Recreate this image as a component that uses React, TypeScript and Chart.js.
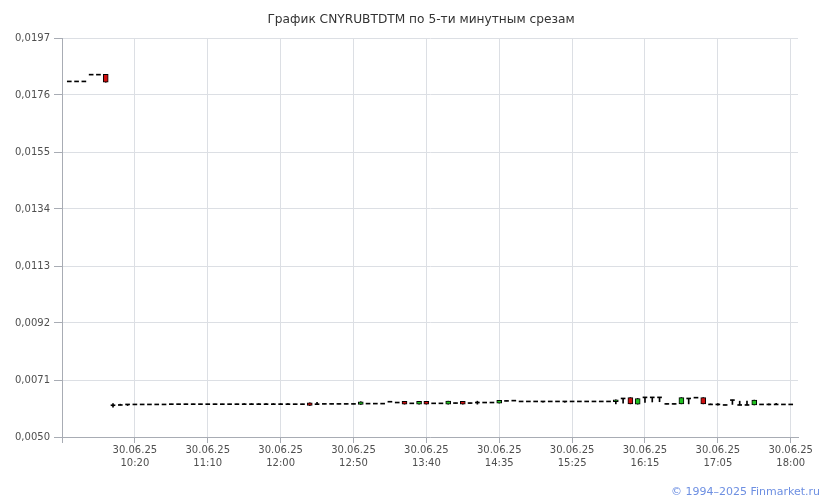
import React, { useEffect, useRef } from "react";
import { Chart, registerables } from "chart.js";
Chart.register(...registerables);

const TITLE = "График CNYRUBTDTM по 5-ти минутным срезам";
const FOOTER = "© 1994–2025 Finmarket.ru";
const DATE = "30.06.25";

const times = [
  "09:30","09:35","09:40","09:45","09:50","09:55","10:00","10:05","10:10","10:15",
  "10:20","10:25","10:30","10:35","10:40","10:45","10:50","10:55","11:00","11:05",
  "11:10","11:15","11:20","11:25","11:30","11:35","11:40","11:45","11:50","11:55",
  "12:00","12:05","12:10","12:15","12:20","12:25","12:30","12:35","12:40","12:45",
  "12:50","12:55","13:00","13:05","13:10","13:15","13:20","13:25","13:30","13:35",
  "13:40","13:45","13:50","13:55","14:00","14:05","14:15","14:20","14:25","14:30",
  "14:35","14:40","14:45","14:50","14:55","15:00","15:05","15:10","15:15","15:20",
  "15:25","15:30","15:35","15:40","15:45","15:50","15:55","16:00","16:05","16:10",
  "16:15","16:20","16:25","16:30","16:35","16:40","16:45","16:50","16:55","17:00",
  "17:05","17:10","17:15","17:20","17:25","17:30","17:35","17:45","17:50","17:55",
  "18:00","18:05",
];

const opens = [
  null, 0.01810, 0.01810, 0.01810, 0.01835, 0.01835, 0.01836, 0.00617, 0.00618, 0.00620,
  0.00620, 0.00620, 0.00620, 0.00620, 0.00620, 0.00621, 0.00621, 0.00621, 0.00621, 0.00621,
  0.00621, 0.00621, 0.00621, 0.00621, 0.00621, 0.00621, 0.00621, 0.00621, 0.00621, 0.00621,
  0.00621, 0.00621, 0.00621, 0.00621, 0.00626, 0.00621, 0.00622, 0.00622, 0.00622, 0.00622,
  0.00622, 0.00620, 0.00623, 0.00623, 0.00623, 0.00630, 0.00627, 0.00631, 0.00624, 0.00621,
  0.00631, 0.00624, 0.00624, 0.00621, 0.00625, 0.00631, 0.00625, 0.00627, 0.00627, 0.00627,
  0.00625, 0.00633, 0.00634, 0.00631, 0.00631, 0.00631, 0.00631, 0.00631, 0.00631, 0.00631,
  0.00631, 0.00631, 0.00631, 0.00631, 0.00631, 0.00631, 0.00630, 0.00642, 0.00645, 0.00621,
  0.00646, 0.00646, 0.00646, 0.00622, 0.00622, 0.00622, 0.00642, 0.00645, 0.00645, 0.00620,
  0.00620, 0.00618, 0.00636, 0.00618, 0.00618, 0.00618, 0.00620, 0.00620, 0.00620, 0.00620,
  0.00620, null,
];

const highs = [
  null, 0.01810, 0.01810, 0.01810, 0.01835, 0.01835, 0.01836, 0.00623, 0.00621, 0.00620,
  0.00620, 0.00620, 0.00620, 0.00620, 0.00620, 0.00621, 0.00621, 0.00621, 0.00621, 0.00621,
  0.00621, 0.00621, 0.00621, 0.00621, 0.00621, 0.00623, 0.00623, 0.00623, 0.00623, 0.00623,
  0.00623, 0.00623, 0.00621, 0.00621, 0.00626, 0.00628, 0.00622, 0.00622, 0.00622, 0.00622,
  0.00622, 0.00630, 0.00623, 0.00623, 0.00623, 0.00630, 0.00627, 0.00631, 0.00624, 0.00631,
  0.00631, 0.00624, 0.00624, 0.00632, 0.00625, 0.00631, 0.00625, 0.00632, 0.00627, 0.00627,
  0.00635, 0.00633, 0.00634, 0.00631, 0.00631, 0.00631, 0.00631, 0.00631, 0.00631, 0.00631,
  0.00631, 0.00631, 0.00631, 0.00631, 0.00631, 0.00631, 0.00637, 0.00642, 0.00645, 0.00642,
  0.00646, 0.00646, 0.00646, 0.00622, 0.00622, 0.00645, 0.00642, 0.00645, 0.00645, 0.00622,
  0.00623, 0.00618, 0.00636, 0.00632, 0.00632, 0.00636, 0.00620, 0.00622, 0.00624, 0.00620,
  0.00620, null,
];

const lows = [
  null, 0.01810, 0.01810, 0.01810, 0.01835, 0.01835, 0.01807, 0.00610, 0.00618, 0.00616,
  0.00620, 0.00620, 0.00620, 0.00620, 0.00620, 0.00621, 0.00621, 0.00621, 0.00621, 0.00621,
  0.00621, 0.00621, 0.00621, 0.00621, 0.00621, 0.00621, 0.00621, 0.00621, 0.00621, 0.00621,
  0.00621, 0.00621, 0.00621, 0.00621, 0.00616, 0.00621, 0.00622, 0.00622, 0.00622, 0.00622,
  0.00622, 0.00620, 0.00623, 0.00623, 0.00623, 0.00630, 0.00627, 0.00621, 0.00624, 0.00621,
  0.00621, 0.00624, 0.00624, 0.00621, 0.00625, 0.00621, 0.00625, 0.00621, 0.00627, 0.00627,
  0.00625, 0.00633, 0.00634, 0.00631, 0.00631, 0.00631, 0.00628, 0.00631, 0.00631, 0.00628,
  0.00631, 0.00631, 0.00631, 0.00631, 0.00631, 0.00631, 0.00622, 0.00625, 0.00622, 0.00621,
  0.00627, 0.00629, 0.00630, 0.00622, 0.00622, 0.00622, 0.00622, 0.00645, 0.00622, 0.00620,
  0.00617, 0.00618, 0.00620, 0.00618, 0.00618, 0.00618, 0.00620, 0.00618, 0.00620, 0.00620,
  0.00620, null,
];

const closes = [
  null, 0.01810, 0.01810, 0.01810, 0.01835, 0.01835, 0.01807, 0.00617, 0.00618, 0.00620,
  0.00620, 0.00620, 0.00620, 0.00620, 0.00620, 0.00621, 0.00621, 0.00621, 0.00621, 0.00621,
  0.00621, 0.00621, 0.00621, 0.00621, 0.00621, 0.00621, 0.00621, 0.00621, 0.00621, 0.00621,
  0.00621, 0.00621, 0.00621, 0.00621, 0.00616, 0.00621, 0.00622, 0.00622, 0.00622, 0.00622,
  0.00622, 0.00630, 0.00623, 0.00623, 0.00623, 0.00630, 0.00627, 0.00621, 0.00624, 0.00631,
  0.00621, 0.00624, 0.00624, 0.00632, 0.00625, 0.00621, 0.00625, 0.00627, 0.00627, 0.00627,
  0.00635, 0.00633, 0.00634, 0.00631, 0.00631, 0.00631, 0.00631, 0.00631, 0.00631, 0.00631,
  0.00631, 0.00631, 0.00631, 0.00631, 0.00631, 0.00631, 0.00637, 0.00642, 0.00622, 0.00642,
  0.00646, 0.00646, 0.00646, 0.00622, 0.00622, 0.00645, 0.00642, 0.00645, 0.00622, 0.00620,
  0.00620, 0.00618, 0.00636, 0.00618, 0.00618, 0.00636, 0.00620, 0.00620, 0.00620, 0.00620,
  0.00620, null,
];

const yTicks = [0.005, 0.0071, 0.0092, 0.0113, 0.0134, 0.0155, 0.0176, 0.0197];
const Y_MIN = 0.005;
const Y_MAX = 0.0197;

const GRID = "#dcdfe4";
const AXIS = "#a8acb4";
const TEXT = "#4f4f4f";
const UP = "#22c322";
const DOWN = "#d01010";
const DOJI_HALF = 0.000018;
const FONT = "DejaVu Sans";

export default function App() {
  const ref = useRef<HTMLCanvasElement | null>(null);

  useEffect(() => {
    const canvas = ref.current;
    if (!canvas) return;

    const wicks = times.map((_, i) =>
      lows[i] == null || highs[i] == null ? null : [lows[i], highs[i]]
    );
    const bodies = times.map((_, i) => {
      const o = opens[i];
      const c = closes[i];
      if (o == null || c == null || o === c) return null;
      return [Math.min(o, c), Math.max(o, c)];
    });
    const dojis = times.map((_, i) => {
      const o = opens[i];
      const c = closes[i];
      if (o == null || c == null || o !== c) return null;
      return [o - DOJI_HALF, o + DOJI_HALF];
    });
    const bodyColors = times.map((_, i) => {
      const o = opens[i];
      const c = closes[i];
      if (o == null || c == null) return "#000";
      return c > o ? UP : DOWN;
    });

    const chart = new Chart(canvas, {
      type: "bar",
      data: {
        labels: times,
        datasets: [
          {
            label: "wick",
            data: wicks as any,
            backgroundColor: "#000",
            borderWidth: 0,
            barThickness: 1,
            grouped: false,
            order: 3,
          } as any,
          {
            label: "doji",
            data: dojis as any,
            backgroundColor: "#000",
            borderWidth: 0,
            barThickness: 4,
            grouped: false,
            order: 2,
          } as any,
          {
            label: "body",
            data: bodies as any,
            backgroundColor: bodyColors,
            borderColor: "#000",
            borderWidth: 1,
            borderSkipped: false,
            barThickness: 5,
            grouped: false,
            order: 1,
          } as any,
        ],
      },
      options: {
        responsive: false,
        animation: false,
        devicePixelRatio: 1,
        layout: { padding: { top: 38, right: 32, left: 0, bottom: 0 } },
        plugins: {
          legend: { display: false },
          tooltip: { enabled: false },
          title: { display: false },
        },
        scales: {
          x: {
            type: "category",
            offset: false,
            grid: {
              offset: false,
              color: (ctx: any) => (ctx.index % 10 === 0 && ctx.index > 0 ? GRID : "rgba(0,0,0,0)"),
              tickColor: (ctx: any) => (ctx.index % 10 === 0 ? AXIS : "rgba(0,0,0,0)"),
              tickLength: 6,
            },
            border: { color: AXIS },
            ticks: {
              autoSkip: false,
              maxRotation: 0,
              minRotation: 0,
              padding: 1,
              color: TEXT,
              font: { family: FONT, size: 10, lineHeight: 1.3 },
              callback: (_v: any, i: number) =>
                i % 10 === 0 && i > 0 && i <= 100 ? [DATE, times[i]] : "",
            },
            afterFit: (s: any) => {
              s.height = 63;
            },
          } as any,
          y: {
            type: "linear",
            min: Y_MIN,
            max: Y_MAX,
            afterBuildTicks: (s: any) => {
              s.ticks = yTicks.map((v) => ({ value: v }));
            },
            grid: { color: GRID, tickColor: AXIS, tickLength: 8 },
            border: { color: AXIS },
            ticks: {
              padding: 4,
              color: TEXT,
              font: { family: FONT, size: 10 },
              callback: (v: any) => Number(v).toFixed(4).replace(".", ","),
            },
            afterFit: (s: any) => {
              s.width = 62;
            },
          } as any,
        },
      },
    });
    return () => chart.destroy();
  }, []);

  return (
    <div style={{ position: "fixed", left: 0, top: 0, width: 830, height: 500, background: "#fff" }}>
      <canvas ref={ref} width={830} height={500} style={{ position: "absolute", left: 0, top: 0 }} />
      <div
        style={{
          position: "absolute",
          left: 0,
          top: 11,
          width: 842,
          textAlign: "center",
          fontFamily: FONT,
          fontSize: 12.2,
          color: "#333",
          lineHeight: "16px",
        }}
      >
        {TITLE}
      </div>
      <div
        style={{
          position: "absolute",
          right: 10,
          top: 485,
          fontFamily: FONT,
          fontSize: 11,
          color: "#6d8fe2",
          lineHeight: "14px",
        }}
      >
        {FOOTER}
      </div>
    </div>
  );
}
